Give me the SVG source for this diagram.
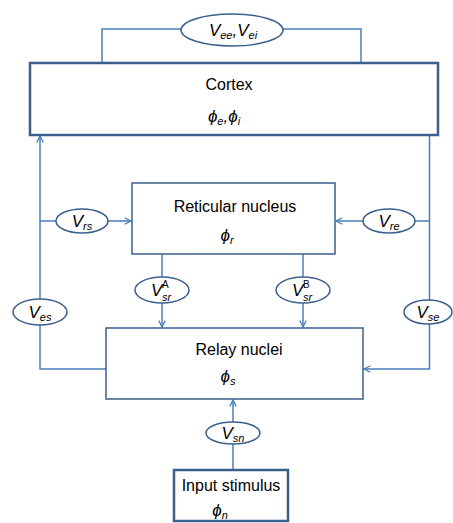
<svg xmlns="http://www.w3.org/2000/svg" width="453" height="523" viewBox="0 0 453 523">
<defs>
<marker id="arr" viewBox="0 0 10 10" refX="9" refY="5" markerWidth="8" markerHeight="8" markerUnits="userSpaceOnUse" orient="auto">
<path d="M1,1 L9,5 L1,9" fill="none" stroke="#4a7ebb" stroke-width="1.6"/>
</marker>
</defs>
<style>
.box{fill:#fff;stroke:#3b5f8c}
.thick{stroke-width:2.5}
.thin{stroke-width:1.5}
.ell{fill:#fff;stroke:#3b5f8c;stroke-width:1.5}
.con{fill:none;stroke:#4a7ebb;stroke-width:1.5}
.t{font-family:"Liberation Sans",Arial,sans-serif;font-size:16px;fill:#000}
.v{font-family:"Liberation Sans",Arial,sans-serif;font-size:17px;font-style:italic;fill:#000}
.sub{font-size:11px}
.sup{font-size:10px;font-style:normal}
</style>
<g id="connectors">
<polyline class="con" points="102,63 102,29 181,29"/>
<polyline class="con" points="283,29 361,29 361,63"/>
<polyline class="con" points="106,369 40,369 40,325"/>
<line class="con" x1="40" y1="299" x2="40" y2="136" marker-end="url(#arr)"/>
<line class="con" x1="40" y1="221" x2="56" y2="221"/>
<line class="con" x1="108" y1="221" x2="131" y2="221" marker-end="url(#arr)"/>
<line class="con" x1="429.5" y1="135" x2="429.5" y2="300"/>
<polyline class="con" points="429.5,324 429.5,369 364,369" marker-end="url(#arr)"/>
<line class="con" x1="429.5" y1="221" x2="415" y2="221"/>
<line class="con" x1="363" y1="221" x2="336" y2="221" marker-end="url(#arr)"/>
<line class="con" x1="162" y1="254" x2="162" y2="277"/>
<line class="con" x1="162" y1="303" x2="162" y2="327" marker-end="url(#arr)"/>
<line class="con" x1="303" y1="254" x2="303" y2="277"/>
<line class="con" x1="303" y1="303" x2="303" y2="327" marker-end="url(#arr)"/>
<line class="con" x1="233" y1="470" x2="233" y2="444"/>
<line class="con" x1="233" y1="422" x2="233" y2="400" marker-end="url(#arr)"/>
</g>
<g id="cortex">
<rect class="box thick" x="30" y="63" width="408" height="72"/>
<text class="t" x="229" y="90" text-anchor="middle">Cortex</text>
<text class="v" x="224" y="122" text-anchor="middle" font-size="16">ϕ<tspan class="sub" dy="3">e</tspan><tspan dy="-3">,ϕ</tspan><tspan class="sub" dy="3">i</tspan></text>
</g>
<g id="reticular">
<rect class="box thin" x="132" y="183" width="203" height="71"/>
<text class="t" x="235" y="212" text-anchor="middle">Reticular nucleus</text>
<text class="v" x="227" y="241" text-anchor="middle" font-size="16">ϕ<tspan class="sub" dy="3">r</tspan></text>
</g>
<g id="relay">
<rect class="box thin" x="106" y="328" width="257" height="71"/>
<text class="t" x="239" y="355" text-anchor="middle">Relay nuclei</text>
<text class="v" x="228" y="382" text-anchor="middle" font-size="16">ϕ<tspan class="sub" dy="3">s</tspan></text>
</g>
<g id="input">
<rect class="box thick" x="174" y="470" width="114" height="51"/>
<text class="t" x="231" y="491" text-anchor="middle">Input stimulus</text>
<text class="v" x="220" y="516" text-anchor="middle" font-size="16">ϕ<tspan class="sub" dy="3">n</tspan></text>
</g>
<g id="vee">
<ellipse class="ell" cx="232" cy="30" rx="51" ry="16"/>
<text class="v" x="233" y="36" text-anchor="middle">V<tspan class="sub" dy="3">ee</tspan><tspan dy="-3">,V</tspan><tspan class="sub" dy="3">ei</tspan></text>
</g>
<g id="vrs">
<ellipse class="ell" cx="82" cy="221" rx="26" ry="12"/>
<text class="v" x="82" y="227" text-anchor="middle">V<tspan class="sub" dy="3">rs</tspan></text>
</g>
<g id="vre">
<ellipse class="ell" cx="389" cy="221" rx="26" ry="12"/>
<text class="v" x="389" y="227" text-anchor="middle">V<tspan class="sub" dy="3">re</tspan></text>
</g>
<g id="vsrA">
<ellipse class="ell" cx="162" cy="290" rx="27" ry="13"/>
<text class="v" x="151" y="296">V</text>
<text class="v sup" x="162" y="288">A</text>
<text class="v sub" x="162" y="301">sr</text>
</g>
<g id="vsrB">
<ellipse class="ell" cx="303" cy="290" rx="27" ry="13"/>
<text class="v" x="292" y="296">V</text>
<text class="v sup" x="303" y="288">B</text>
<text class="v sub" x="303" y="301">sr</text>
</g>
<g id="ves">
<ellipse class="ell" cx="40" cy="312" rx="27" ry="13"/>
<text class="v" x="40" y="318" text-anchor="middle">V<tspan class="sub" dy="3">es</tspan></text>
</g>
<g id="vse">
<ellipse class="ell" cx="428" cy="312" rx="24" ry="12"/>
<text class="v" x="428" y="318" text-anchor="middle">V<tspan class="sub" dy="3">se</tspan></text>
</g>
<g id="vsn">
<ellipse class="ell" cx="233" cy="433" rx="27" ry="11"/>
<text class="v" x="233" y="439" text-anchor="middle">V<tspan class="sub" dy="3">sn</tspan></text>
</g>
</svg>
